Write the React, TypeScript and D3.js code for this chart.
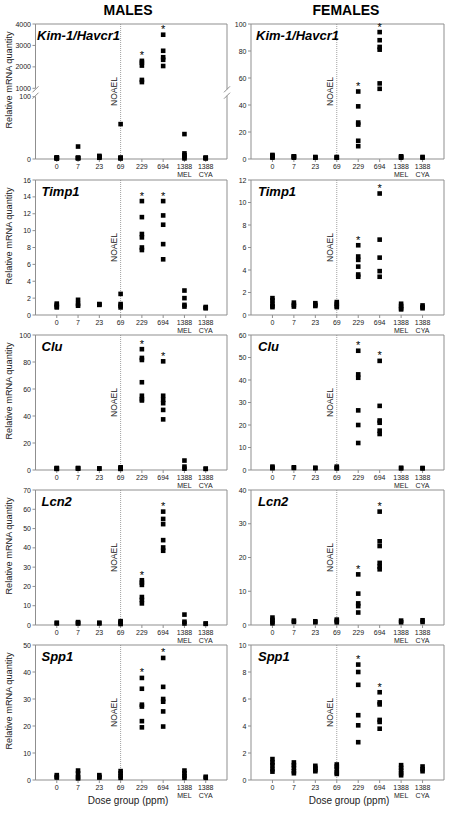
import React from "react";
import * as d3 from "d3";

const FONT = "'Liberation Sans', Arial, Helvetica, sans-serif";

const doseGroups = ["0", "7", "23", "69", "229", "694", "1388 MEL", "1388 CYA"];
const doseLabels = ["0", "7", "23", "69", "229", "694", "1388", "1388"];
const doseSubLabels = ["", "", "", "", "", "", "MEL", "CYA"];
const starGroups = ["229", "694"];
const noaelGroup = "69";

const maleKim1 = [
  [1, 1.5, 2, 2.5, 1, 2],
  [20, 2, 1, 1.5, 2],
  [5, 4, 3, 2, 3],
  [56, 2, 1, 2, 1.5],
  [2280, 2200, 2060, 1390, 1290],
  [3500, 2750, 2450, 2330, 2040],
  [40, 9, 6, 3, 1],
  [2, 1.5, 1, 2],
];
const maleKim1LowTicks = [0, 100];
const maleKim1HighTicks = [1000, 2000, 3000, 4000];

const femaleKim1 = [
  [1, 2, 2.5, 1.5, 3],
  [1, 2, 1.5, 2],
  [1, 1.5, 1],
  [1, 1.5, 1],
  [50, 39, 27, 25.5, 13.5, 9.5],
  [94, 88, 83, 81, 56, 52],
  [1, 1.5, 2],
  [1, 1.5],
];

const maleTimp1 = [
  [1.35, 1.0, 1.2, 0.9],
  [1.8, 1.3, 1.1],
  [1.3, 1.2, 1.25],
  [2.5, 1.3, 0.9, 1.1],
  [13.5, 11.6, 9.6, 9.2, 8.0, 7.7],
  [13.5, 11.8, 10.7, 8.4, 6.6],
  [2.9, 2.0, 1.2, 1.0],
  [0.95, 0.85, 0.8],
];

const femaleTimp1 = [
  [1.5, 1.3, 1.0, 0.8, 0.7],
  [1.1, 0.9, 0.75],
  [1.05, 0.9, 0.8],
  [1.15, 1.0, 0.8, 0.7],
  [6.2, 5.2, 4.9, 4.3, 3.6, 3.4],
  [10.8, 6.7, 5.1, 3.9, 3.4],
  [1.0, 0.8, 0.6, 0.5],
  [0.85, 0.7, 0.6],
];

const maleClu = [
  [1.5, 1, 0.8, 1.2],
  [1.5, 1.2, 1],
  [1.2, 1],
  [2, 1.5, 1, 0.8],
  [89.5, 83, 81.5, 65, 55, 52.5, 51.5],
  [80.5, 55, 52, 49.5, 44.5, 37.5],
  [7, 2.5, 1],
  [1, 0.8],
];

const femaleClu = [
  [1.5, 1, 0.8],
  [1.2, 0.9],
  [1, 0.8],
  [1.5, 1, 0.7],
  [53, 42.5, 41, 26.5, 20, 12],
  [48.5, 28.5, 22, 21, 17.5, 16],
  [1, 0.7],
  [0.9, 0.7],
];

const maleLcn2 = [
  [1.2, 0.8],
  [1.5, 1, 0.8],
  [1.2, 0.8],
  [2, 1.5, 1, 0.5],
  [23.2, 22, 20.8, 14.5, 13, 11.2],
  [58.8, 55, 52.3, 44, 40.2, 38.5],
  [5.4, 1.7, 0.8],
  [0.8, 0.6],
];

const femaleLcn2 = [
  [2.2, 1.5, 1, 0.5],
  [1.3, 0.9],
  [1.1, 0.8],
  [1.6, 1.2, 0.8],
  [15, 9.3, 6.4, 5.6, 3.7],
  [33.6, 24.8, 23.4, 18.4, 17.3, 16.5],
  [1.3, 0.8],
  [1.4, 0.9],
];

const maleSpp1 = [
  [1.8, 1.2, 0.9],
  [3.5, 2.4, 1, 0.6],
  [1.8, 1.2, 0.9],
  [3.3, 2.5, 1.5, 0.8],
  [37.8, 33.8, 27.9, 27.2, 21.8, 19.5],
  [45.2, 34.5, 30, 29, 25.4, 19.8],
  [3.5, 2.5, 1.5, 0.8],
  [1.2, 0.8],
];

const femaleSpp1 = [
  [1.55, 1.3, 1.1, 0.8, 0.62],
  [1.3, 1.1, 0.9, 0.65, 0.5],
  [1.05, 0.9, 0.75, 0.65],
  [1.15, 1.0, 0.8, 0.55, 0.45],
  [8.55, 8.0, 7.05, 4.8, 4.05, 2.8],
  [6.5, 5.75, 5.6, 4.45, 4.3, 3.8],
  [1.1, 0.9, 0.7, 0.5, 0.35],
  [1.0, 0.8, 0.65],
];

const genes = ["Kim-1/Havcr1", "Timp1", "Clu", "Lcn2", "Spp1"];
const maleData = [maleKim1, maleTimp1, maleClu, maleLcn2, maleSpp1];
const femaleData = [femaleKim1, femaleTimp1, femaleClu, femaleLcn2, femaleSpp1];
const maleYMax = [4000, 16, 100, 70, 50];
const maleYStep = [1000, 2, 20, 10, 10];
const femaleYMax = [100, 12, 60, 40, 10];
const femaleYStep = [20, 2, 10, 10, 2];

const W = 452;
const H = 813;
const PANEL_TOPS = [24, 180, 335, 490, 645];
const PANEL_H = 135;
const FRAME = "#8f8f8f";
const TXT = "#222";

type PanelProps = {
  x0: number;
  x1: number;
  top: number;
  gene: string;
  data: number[][];
  yMax: number;
  yStep: number;
  broken?: boolean;
  showYTitle: boolean;
  geneDx: number;
};

function Panel({ x0, x1, top, gene, data, yMax, yStep, broken, showYTitle, geneDx }: PanelProps) {
  const bottom = top + PANEL_H;
  const x = d3.scalePoint<string>().domain(doseGroups).range([x0, x1]).padding(1);

  let yFn: (v: number) => number;
  let ticks: number[];
  let lowTop = 0;
  let highBottom = 0;
  if (broken) {
    lowTop = bottom - 62.3;
    highBottom = bottom - 70.7;
    const low = d3.scaleLinear().domain([0, 100]).range([bottom, lowTop]);
    const high = d3.scaleLinear().domain([1000, 4000]).range([highBottom, top]);
    yFn = (v: number) => (v <= 100 ? low(v) : high(v));
    ticks = [...maleKim1LowTicks, ...maleKim1HighTicks];
  } else {
    const y = d3.scaleLinear().domain([0, yMax]).range([bottom, top]);
    yFn = (v: number) => y(v);
    ticks = d3.range(0, yMax + yStep / 2, yStep);
  }

  const sq = 4.6;
  const noaelX = x(noaelGroup)!;
  const midY = (top + bottom) / 2;

  const breakMark = (cx: number, cy: number, key: string) => (
    <line key={key} x1={cx - 3} y1={cy + 3} x2={cx + 3} y2={cy - 3} stroke={FRAME} strokeWidth={1} />
  );

  return (
    <g>
      {/* frame */}
      <line x1={x0} y1={top} x2={x1} y2={top} stroke={FRAME} strokeWidth={1} />
      <line x1={x0} y1={bottom} x2={x1} y2={bottom} stroke={FRAME} strokeWidth={1} />
      {broken ? (
        <g>
          <line x1={x0} y1={top} x2={x0} y2={highBottom} stroke={FRAME} />
          <line x1={x0} y1={lowTop} x2={x0} y2={bottom} stroke={FRAME} />
          <line x1={x1} y1={top} x2={x1} y2={highBottom + 1} stroke={FRAME} />
          <line x1={x1} y1={lowTop - 1} x2={x1} y2={bottom} stroke={FRAME} />
          {breakMark(x0, highBottom + 1, "b1")}
          {breakMark(x0, lowTop - 1, "b2")}
          {breakMark(x1, highBottom + 1, "b3")}
          {breakMark(x1, lowTop - 1, "b4")}
        </g>
      ) : (
        <g>
          <line x1={x0} y1={top} x2={x0} y2={bottom} stroke={FRAME} />
          <line x1={x1} y1={top} x2={x1} y2={bottom} stroke={FRAME} />
        </g>
      )}

      {/* y ticks */}
      {ticks.map((t) => (
        <g key={"yt" + t}>
          <line x1={x0 - 3} y1={yFn(t)} x2={x0} y2={yFn(t)} stroke={FRAME} />
          <text
            x={x0 - 4.5}
            y={yFn(t) + 2.5}
            textAnchor="end"
            fontSize={7}
            fontFamily={FONT}
            fill={TXT}
          >
            {t}
          </text>
        </g>
      ))}

      {/* x ticks */}
      {doseGroups.map((g, i) => (
        <g key={"xt" + g}>
          <line x1={x(g)!} y1={bottom} x2={x(g)!} y2={bottom + 3} stroke={FRAME} />
          <text x={x(g)!} y={bottom + 9.5} textAnchor="middle" fontSize={7} fontFamily={FONT} fill={TXT}>
            {doseLabels[i]}
          </text>
          {doseSubLabels[i] && (
            <text x={x(g)!} y={bottom + 18} textAnchor="middle" fontSize={7} fontFamily={FONT} fill={TXT}>
              {doseSubLabels[i]}
            </text>
          )}
        </g>
      ))}

      {/* NOAEL */}
      <line x1={noaelX} y1={top} x2={noaelX} y2={bottom} stroke="#888" strokeWidth={0.8} strokeDasharray="1,1" />
      <text
        transform={`translate(${noaelX - 3.5},${midY}) rotate(-90)`}
        textAnchor="middle"
        fontSize={8.5}
        fontFamily={FONT}
        fill={TXT}
      >
        NOAEL
      </text>

      {/* gene label */}
      <text
        x={x0 + geneDx}
        y={top + 15.5}
        fontSize={13}
        fontWeight="bold"
        fontStyle="italic"
        fontFamily={FONT}
        fill="#000"
      >
        {gene}
      </text>

      {/* points */}
      {data.map((vals, i) =>
        vals.map((v, j) => (
          <rect
            key={`p${i}-${j}`}
            x={x(doseGroups[i])! - sq / 2}
            y={yFn(v) - sq / 2}
            width={sq}
            height={sq}
            fill="#000"
          />
        ))
      )}

      {/* stars */}
      {starGroups.map((g) => {
        const i = doseGroups.indexOf(g);
        const m = d3.max(data[i])!;
        return (
          <text
            key={"s" + g}
            x={x(g)!}
            y={yFn(m) - 1.5}
            textAnchor="middle"
            fontSize={11}
            fontFamily={FONT}
            fill="#000"
          >
            *
          </text>
        );
      })}

      {showYTitle && (
        <text
          transform={`translate(12,${top + 56}) rotate(-90)`}
          textAnchor="middle"
          fontSize={9.2}
          fontFamily={FONT}
          fill={TXT}
        >
          Relative mRNA quantity
        </text>
      )}
    </g>
  );
}

export default function App() {
  const maleX: [number, number] = [35.5, 227];
  const femaleX: [number, number] = [251, 444];
  return (
    <svg
      width={W}
      height={H}
      style={{ position: "absolute", left: 0, top: 0, background: "#fff" }}
      viewBox={`0 0 ${W} ${H}`}
    >
      <rect x={0} y={0} width={W} height={H} fill="#fff" />
      <text x={128} y={15} textAnchor="middle" fontSize={14} fontWeight="bold" fontFamily={FONT} fill="#000">
        MALES
      </text>
      <text x={346} y={15} textAnchor="middle" fontSize={14} fontWeight="bold" fontFamily={FONT} fill="#000">
        FEMALES
      </text>
      {genes.map((g, r) => (
        <g key={"m" + g}>
          <Panel
            x0={maleX[0]}
            x1={maleX[1]}
            top={PANEL_TOPS[r]}
            gene={g}
            data={maleData[r]}
            yMax={maleYMax[r]}
            yStep={maleYStep[r]}
            broken={r === 0}
            showYTitle={true}
            geneDx={r === 0 ? 1.5 : 6}
          />
          <Panel
            x0={femaleX[0]}
            x1={femaleX[1]}
            top={PANEL_TOPS[r]}
            gene={g}
            data={femaleData[r]}
            yMax={femaleYMax[r]}
            yStep={femaleYStep[r]}
            showYTitle={false}
            geneDx={r === 0 ? 5 : 7}
          />
        </g>
      ))}
      <text x={128} y={804} textAnchor="middle" fontSize={10} fontFamily={FONT} fill={TXT}>
        Dose group (ppm)
      </text>
      <text x={349} y={804} textAnchor="middle" fontSize={10} fontFamily={FONT} fill={TXT}>
        Dose group (ppm)
      </text>
    </svg>
  );
}
